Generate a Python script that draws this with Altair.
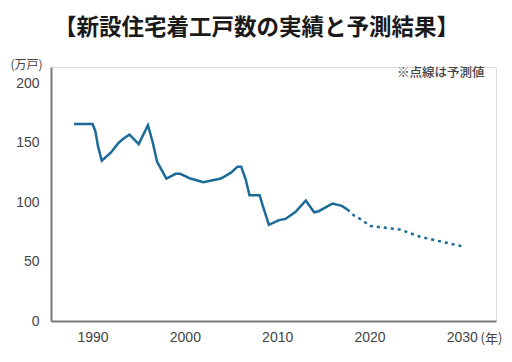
import altair as alt
import pandas as pd

# actual (solid) series
act_year = [1988.0, 1990.0, 1990.3, 1990.6, 1991.0, 1992.0, 1992.8, 1993.4, 1994.0, 1995.0,
            1996.0, 1996.5, 1997.0, 1998.0, 1999.0, 1999.5, 2000.6, 2002.0, 2003.9, 2005.0,
            2005.7, 2006.1, 2006.6, 2007.0, 2008.1, 2008.4, 2009.1, 2010.2, 2010.9, 2012.0,
            2013.1, 2014.0, 2014.5, 2016.0, 2017.0, 2017.6]
act_value = [166, 166, 160, 147, 135, 142, 150, 154, 157, 149,
             165, 151, 134, 120, 124, 124, 120, 117, 120, 125,
             130, 130, 119, 106, 106, 98, 81, 85, 86, 92,
             101.5, 91.6, 92.5, 99, 97, 94]

# forecast (dotted) series
fc_year = [2017.6, 2018.3, 2019.2, 2020.1, 2022.3, 2023.3, 2025.5, 2027.7, 2030.0]
fc_value = [94, 89, 85, 80, 78, 77, 71, 67, 63]

x_ticks = [1990, 2000, 2010, 2020, 2030]
y_ticks = [0, 50, 100, 150, 200]

title_text = "【新設住宅着工戸数の実績と予測結果】"
note_text = "※点線は予測値"

df = pd.concat([
    pd.DataFrame({"year": act_year, "value": act_value, "kind": "実績"}),
    pd.DataFrame({"year": fc_year, "value": fc_value, "kind": "予測"}),
])

LINE = "#1b6a98"
LBL = "#444444"
AX = "#7a7a7a"

x = alt.X("year:Q",
          scale=alt.Scale(domain=[1985.5, 2033.7], nice=False, zero=False),
          axis=alt.Axis(values=x_ticks, format="d", ticks=False, grid=False,
                        domainColor=AX, domainWidth=2,
                        labelFont="Liberation Sans", labelFontSize=14, labelColor=LBL,
                        labelPadding=9,
                        title="(年)", titleFont="Noto Sans CJK JP", titleFontSize=13,
                        titleFontWeight="normal", titleColor=LBL,
                        titleX=440, titleY=17, titleAlign="center", titleBaseline="middle"))
y = alt.Y("value:Q",
          scale=alt.Scale(domain=[0, 214], nice=False),
          axis=alt.Axis(values=y_ticks, ticks=False, grid=False,
                        domainColor=AX, domainWidth=2,
                        labelFont="Liberation Sans", labelFontSize=14, labelColor=LBL,
                        labelPadding=12,
                        title="(万戸)", titleFont="Noto Sans CJK JP", titleFontSize=12,
                        titleFontWeight="normal", titleColor=LBL, titleAngle=0,
                        titleX=-25, titleY=-3, titleAlign="center", titleBaseline="middle"))

solid = alt.Chart(df).transform_filter(alt.datum.kind == "実績").mark_line(
    color=LINE, strokeWidth=2.5).encode(x=x, y=y, order="year:Q")
dotted = alt.Chart(df).transform_filter(alt.datum.kind == "予測").mark_line(
    color=LINE, strokeWidth=2.5, strokeDash=[3, 4]).encode(x=x, y=y, order="year:Q")

note = alt.Chart(pd.DataFrame({"t": [note_text]})).mark_text(
    font="Noto Sans CJK JP", fontSize=12.5, fontWeight=500, color=LBL, align="left",
    baseline="middle"
).encode(text="t:N", x=alt.value(346), y=alt.value(6))

chart = alt.layer(solid, dotted, note).properties(
    width=445, height=254,
    title=alt.TitleParams(title_text, font="Noto Sans CJK JP", fontSize=22.5,
                          fontWeight="bold", color="#1a1a1a", anchor="middle",
                          dx=-17, offset=19),
    autosize=alt.AutoSizeParams(type="none"),
    padding={"left": 43, "top": 59, "right": 8, "bottom": 33},
).configure_view(stroke=None).configure(background="white")

chart.save("out.html", embed_options={"renderer": "svg", "actions": False})
